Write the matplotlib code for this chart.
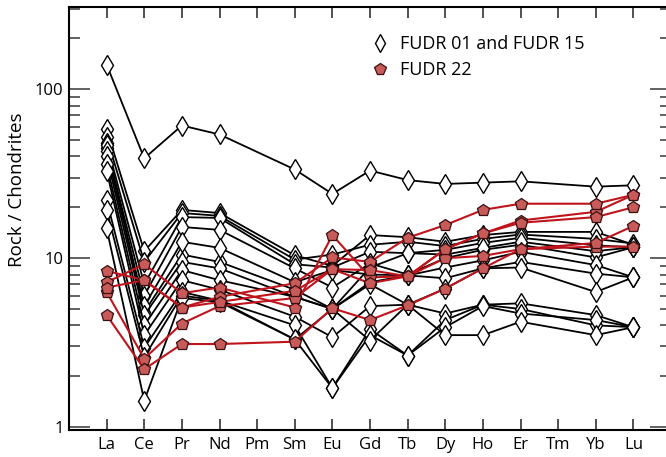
import matplotlib
matplotlib.use("Agg")
import matplotlib.pyplot as plt
import numpy as np
from matplotlib.lines import Line2D
from matplotlib.ticker import LogLocator, NullFormatter, FixedLocator, FixedFormatter

plt.rcParams['font.family'] = ['Open Sans', 'DejaVu Sans']

categories = ["La", "Ce", "Pr", "Nd", "Pm", "Sm", "Eu", "Gd", "Tb", "Dy", "Ho", "Er", "Tm", "Yb", "Lu"]
measured = ["La", "Ce", "Pr", "Nd", "Sm", "Eu", "Gd", "Tb", "Dy", "Ho", "Er", "Yb", "Lu"]

# FUDR 01 and FUDR 15 (chondrite-normalised)
fudr01_15 = [
    [140, 39, 61, 54, 33.5, 24, 33, 29, 27.5, 28, 28.5, 26.5, 27],
    [58, 11, 19.3, 18.5, 10.4, 9.0, 13.7, 13.3, 12.5, 13.7, 14.3, 14.3, 12.0],
    [52, 9.5, 18.5, 17.8, 9.8, 10.5, 12.0, 12.5, 11.8, 13.0, 13.8, 13.0, 12.2],
    [48, 7.0, 17.5, 17.3, 9.2, 8.8, 10.9, 10.7, 11.2, 12.3, 13.2, 11.9, 11.6],
    [45, 6.0, 15.3, 14.7, 8.7, 6.7, 9.3, 8.0, 10.0, 11.2, 12.0, 10.1, 11.6],
    [47, 4.8, 10.5, 9.5, 6.5, 5.0, 8.8, 10.7, 10.5, 11.5, 12.5, 11.0, 11.6],
    [43, 5.2, 12.5, 11.5, 7.2, 8.5, 8.0, 7.9, 8.8, 9.7, 10.9, 9.1, 7.7],
    [40, 4.6, 9.5, 8.7, 5.9, 5.0, 7.2, 7.9, 7.6, 8.7, 9.5, 8.1, 7.7],
    [36, 4.0, 8.5, 7.4, 5.9, 5.0, 7.0, 5.3, 6.6, 8.7, 8.8, 6.3, 7.7],
    [33, 3.5, 7.4, 6.5, 4.5, 3.4, 5.2, 5.3, 4.7, 5.3, 5.4, 4.6, 3.9],
    [22, 2.95, 6.3, 5.6, 3.3, 1.7, 3.8, 2.65, 4.3, 5.3, 5.0, 4.0, 3.9],
    [19.3, 2.6, 6.0, 5.6, 4.0, 1.7, 3.5, 2.65, 3.9, 5.2, 4.7, 4.3, 3.9],
    [15, 1.43, 5.8, 5.5, 3.3, 5.0, 3.25, 5.3, 3.5, 3.5, 4.2, 3.5, 3.9],
]

# FUDR 22
fudr22 = [
    [7.2, 9.2, 6.2, 6.7, 5.1, 13.7, 7.7, 7.8, 11.3, 14.0, 16.7, 18.8, 23.7],
    [8.4, 7.4, 5.1, 5.9, 7.1, 10.1, 9.5, 13.2, 15.7, 19.3, 21.0, 21.0, 23.7],
    [6.3, 2.54, 4.1, 5.2, 5.8, 8.6, 8.5, 7.8, 10.0, 10.3, 11.3, 11.7, 11.7],
    [6.7, 7.4, 5.1, 5.5, 6.4, 8.6, 7.1, 7.8, 11.3, 14.0, 16.2, 17.5, 20.0],
    [4.6, 2.2, 3.1, 3.1, 3.2, 5.05, 4.3, 5.25, 6.6, 8.7, 11.3, 12.3, 15.5],
]

legend_labels = ["FUDR 01 and FUDR 15", "FUDR 22"]

xpos = [categories.index(e) for e in measured]

fig = plt.figure(figsize=(6.66, 4.57), dpi=100)
ax = fig.add_axes([69/666, 27/457, 602/666, 423/457])

red_line = '#c0141c'
red_fill = '#c85a5a'
for s in fudr01_15:
    ax.plot(xpos, s, color='black', lw=1.3, marker='d', ms=10,
            mfc='white', mec='black', mew=1.0, zorder=2)
for s in fudr22:
    ax.plot(xpos, s, color=red_line, lw=1.5, marker='p', ms=9,
            mfc=red_fill, mec='#3a1010', mew=0.9, zorder=3)

ax.set_yscale('log')
ax.set_ylim(0.96, 307)
ax.set_xlim(-1, 15)

ax.set_xticks(range(len(categories)))
ax.set_xticklabels(categories, fontsize=12)
ax.yaxis.set_major_locator(FixedLocator([1, 10, 100]))
ax.yaxis.set_major_formatter(FixedFormatter(["1", "10", "100"]))
ax.yaxis.set_minor_locator(LogLocator(base=10, subs=np.arange(2, 10)))
ax.yaxis.set_minor_formatter(NullFormatter())
ax.tick_params(axis='y', which='major', direction='in', length=15, width=1.3,
               left=True, right=True, labelsize=12, pad=4, color='#555555')
ax.tick_params(axis='y', which='minor', direction='in', length=8, width=1.3,
               left=True, right=True, color='#555555')
ax.tick_params(axis='x', which='major', direction='in', length=8, width=1.2,
               top=True, bottom=True, labelsize=12, pad=5, color='#333333')
for sp in ax.spines.values():
    sp.set_linewidth(1.5)
ax.set_ylabel("Rock / Chondrites", fontsize=13.5)
ax.yaxis.set_label_coords(-0.0714, 0.567)

handles = [
    Line2D([], [], ls='none', marker='d', ms=9, mfc='white', mec='black', mew=1.0),
    Line2D([], [], ls='none', marker='p', ms=8.5, mfc=red_fill, mec='#3a1010', mew=0.9),
]
ax.legend(handles, legend_labels, loc='upper left', bbox_to_anchor=(0.475, 0.972),
          frameon=False, fontsize=13, handlelength=1.0, handletextpad=0.6,
          labelspacing=0.45)

fig.savefig("out.png", dpi=100)
